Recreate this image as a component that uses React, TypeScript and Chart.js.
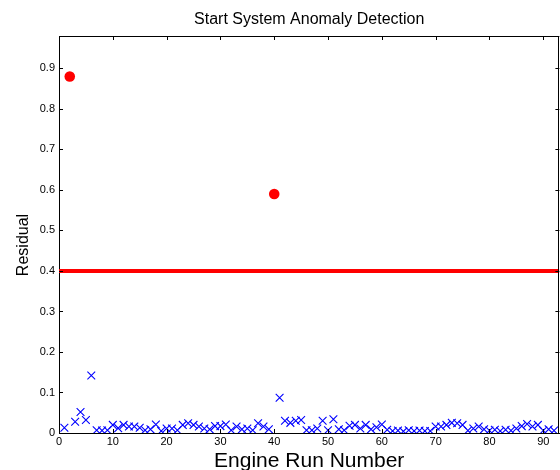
import React, { useEffect, useRef } from "react";
import { Chart, registerables } from "chart.js";

Chart.register(...registerables);

// Normal engine runs (blue crosses)
const runNumbers: number[] = [
  1, 3, 4, 5, 6, 7, 8, 9, 10, 11, 12, 13, 14, 15, 16, 17, 18, 19, 20, 21, 22, 23, 24, 25, 26, 27, 28, 29, 30,
  31, 32, 33, 34, 35, 36, 37, 38, 39, 41, 42, 43, 44, 45, 46, 47, 48, 49, 50, 51, 52, 53, 54, 55, 56, 57, 58,
  59, 60, 61, 62, 63, 64, 65, 66, 67, 68, 69, 70, 71, 72, 73, 74, 75, 76, 77, 78, 79, 80, 81, 82, 83, 84, 85,
  86, 87, 88, 89, 90, 91, 92,
];
const residuals: number[] = [
  0.013, 0.028, 0.052, 0.032, 0.142, 0.007, 0.006, 0.007, 0.02, 0.012, 0.02, 0.016, 0.016, 0.013, 0.007, 0.009,
  0.021, 0.005, 0.011, 0.011, 0.007, 0.02, 0.024, 0.02, 0.016, 0.011, 0.009, 0.017, 0.017,
  0.021, 0.007, 0.016, 0.009, 0.011, 0.007, 0.024, 0.016, 0.009, 0.087, 0.03, 0.025, 0.03, 0.032, 0.007, 0.007,
  0.011, 0.03, 0.007, 0.034, 0.009, 0.007, 0.018, 0.02, 0.011, 0.02, 0.009,
  0.014, 0.021, 0.008, 0.005, 0.006, 0.004, 0.007, 0.005, 0.006, 0.005, 0.005, 0.016, 0.016, 0.02, 0.025, 0.024,
  0.02, 0.006, 0.011, 0.016, 0.009, 0.006, 0.008, 0.005, 0.008, 0.006, 0.011,
  0.017, 0.022, 0.016, 0.02, 0.006, 0.009, 0.006,
];

// Anomalous runs (red dots)
const anomalyRuns: number[] = [2, 40];
const anomalyResiduals: number[] = [0.88, 0.59];

// Detection threshold
const threshold = 0.4;

const xMin = 0;
const xMax = 93;
const yMin = 0;
const yMax = 0.98;

const xTickStep = 10;
const yTickStep = 0.1;

const titleText = "Start System Anomaly Detection";
const xLabelText = "Engine Run Number";
const yLabelText = "Residual";

const FONT = "'Liberation Sans', Arial, Helvetica, sans-serif";

const frameTicksPlugin = {
  id: "frameTicks",
  afterDatasetsDraw(chart: any) {
    const { ctx, chartArea } = chart;
    const { left, right, top, bottom } = chartArea;
    const xs = chart.scales.x;
    const ys = chart.scales.y;
    const len = 4;
    ctx.save();
    ctx.strokeStyle = "#000";
    ctx.lineWidth = 1;
    ctx.beginPath();
    ctx.moveTo(left, Math.round(top) + 0.5);
    ctx.lineTo(right, Math.round(top) + 0.5);
    ctx.moveTo(Math.round(right) - 0.5, top);
    ctx.lineTo(Math.round(right) - 0.5, bottom);
    xs.ticks.forEach((t: any) => {
      const px = Math.round(xs.getPixelForValue(t.value)) + 0.5;
      ctx.moveTo(px, bottom);
      ctx.lineTo(px, bottom - len);
      ctx.moveTo(px, top);
      ctx.lineTo(px, top + len);
    });
    ys.ticks.forEach((t: any) => {
      const py = Math.round(ys.getPixelForValue(t.value)) + 0.5;
      ctx.moveTo(left, py);
      ctx.lineTo(left + len, py);
      ctx.moveTo(right, py);
      ctx.lineTo(right - len, py);
    });
    ctx.stroke();

    // y-axis label (drawn slightly below the axis centre, as in the reference)
    ctx.fillStyle = "#000";
    ctx.font = `16px ${FONT}`;
    ctx.textAlign = "center";
    ctx.textBaseline = "middle";
    ctx.translate(24, 245);
    ctx.rotate(-Math.PI / 2);
    ctx.fillText(yLabelText, 0, 0);
    ctx.restore();
  },
};

export default function App() {
  const canvasRef = useRef<HTMLCanvasElement | null>(null);

  useEffect(() => {
    if (!canvasRef.current) return;
    const normalData = runNumbers.map((r, i) => ({ x: r, y: residuals[i] }));
    const anomalyData = anomalyRuns.map((r, i) => ({ x: r, y: anomalyResiduals[i] }));
    const thresholdData = [
      { x: xMin, y: threshold },
      { x: xMax, y: threshold },
    ];

    const chart = new Chart(canvasRef.current, {
      type: "scatter",
      data: {
        datasets: [
          {
            label: "Normal",
            data: normalData,
            pointStyle: "crossRot",
            pointRadius: 5.5,
            borderColor: "#0000ff",
            backgroundColor: "#0000ff",
            borderWidth: 1.1,
            showLine: false,
          },
          {
            label: "Threshold",
            data: thresholdData,
            showLine: true,
            pointRadius: 0,
            borderColor: "#ff0000",
            borderWidth: 4,
            fill: false,
          },
          {
            label: "Anomaly",
            data: anomalyData,
            pointStyle: "circle",
            pointRadius: 5.3,
            borderWidth: 0,
            backgroundColor: "#ff0000",
            borderColor: "#ff0000",
            showLine: false,
          },
        ],
      },
      options: {
        animation: false,
        responsive: false,
        devicePixelRatio: 1,
        layout: { padding: { left: 0, right: 5, top: 0, bottom: 0 } },
        plugins: {
          legend: { display: false },
          tooltip: { enabled: false },
          title: {
            display: true,
            text: titleText,
            color: "#000",
            fullSize: false,
            font: { family: FONT, size: 16, weight: "normal", lineHeight: 1.2 },
            padding: { top: 10, bottom: 6.8 },
          },
        },
        scales: {
          x: {
            type: "linear",
            min: xMin,
            max: xMax,
            grid: { display: false, drawTicks: false },
            border: { display: true, color: "#000", width: 1 },
            ticks: {
              stepSize: xTickStep,
              includeBounds: false,
              color: "#000",
              padding: 2,
              maxRotation: 0,
              font: { family: FONT, size: 11 },
              callback: (v: any) => String(v),
            },
            title: {
              display: true,
              text: xLabelText,
              color: "#000",
              font: { family: FONT, size: 21, lineHeight: 0.85 },
              padding: { top: 0, bottom: 0 },
            },
            afterFit: (scale: any) => {
              scale.height = 37;
            },
          },
          y: {
            type: "linear",
            min: yMin,
            max: yMax,
            grid: { display: false, drawTicks: false },
            border: { display: true, color: "#000", width: 1 },
            ticks: {
              stepSize: yTickStep,
              includeBounds: false,
              color: "#000",
              padding: 4,
              font: { family: FONT, size: 11 },
              callback: (v: any) => String(Math.round(Number(v) * 10) / 10),
            },
            title: { display: false },
            afterFit: (scale: any) => {
              scale.width = 59;
            },
          },
        },
      },
      plugins: [frameTicksPlugin],
    });

    return () => {
      chart.destroy();
    };
  }, []);

  return (
    <div style={{ position: "absolute", left: 0, top: 0, width: 566, height: 470, background: "#fff" }}>
      <canvas ref={canvasRef} width={566} height={470} />
    </div>
  );
}
